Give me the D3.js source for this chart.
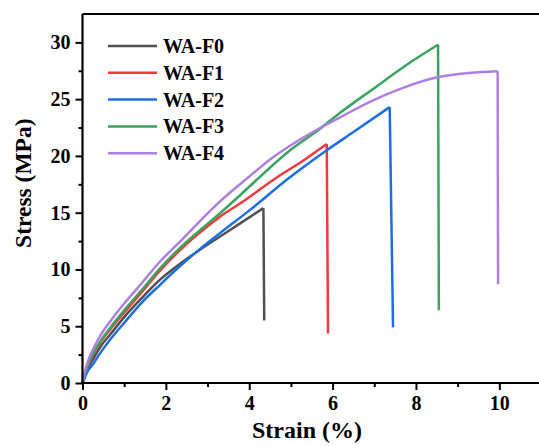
<!DOCTYPE html>
<html>
<head>
<meta charset="utf-8">
<script src="https://cdn.jsdelivr.net/npm/d3@7"></script>
<style>
  body { margin: 0; background: #fff; }
  text { font-family: "Liberation Serif", "Times New Roman", serif; font-weight: bold; fill: #000; }
</style>
</head>
<body>
<div id="chart"></div>
<script>
const width = 539;
const height = 446;

// Data: [strain %, stress MPa]; last point of each is the bottom of the break
const seriesNames = ["WA-F0", "WA-F1", "WA-F2", "WA-F3", "WA-F4"];
const colors = ["#505050", "#f2393c", "#1c6fe3", "#3aa360", "#b07ee2"];

const wa_f0 = [[0,0],[0.05,0.55],[0.15,1.45],[0.3,2.4],[0.45,3.3],[0.66,4.25],[1.0,5.8],[1.4,7.4],[1.86,9.1],[2.34,10.5],[2.8,11.7],[3.3,12.9],[3.8,14.1],[4.34,15.4],[4.36,5.5]];
const wa_f1 = [[0,0],[0.05,0.65],[0.15,1.7],[0.3,2.8],[0.45,3.7],[0.66,4.7],[1.0,6.2],[1.4,7.9],[1.86,9.9],[2.34,11.7],[2.8,13.2],[3.3,14.65],[3.86,16.0],[4.58,17.9],[5.38,19.8],[5.86,21.05],[5.89,4.35]];
const wa_f2 = [[0,0],[0.05,0.45],[0.15,1.2],[0.22,1.5],[0.4,2.5],[0.66,3.8],[1.0,5.3],[1.4,7.0],[1.86,8.65],[2.34,10.3],[2.8,11.75],[3.3,13.2],[4.02,15.25],[4.9,17.9],[5.86,20.5],[6.5,22.1],[7.37,24.3],[7.45,4.9]];
const wa_f3 = [[0,0],[0.05,0.7],[0.15,1.8],[0.3,2.9],[0.45,3.8],[0.66,4.85],[1.0,6.4],[1.4,8.1],[1.86,10.1],[2.34,11.9],[2.8,13.4],[3.3,14.95],[3.74,16.4],[4.18,17.9],[4.98,20.5],[5.7,22.4],[6.18,23.8],[6.97,25.9],[7.93,28.4],[8.53,29.8],[8.55,6.4]];
const wa_f4 = [[0,0],[0.05,0.9],[0.15,2.1],[0.3,3.3],[0.45,4.3],[0.66,5.4],[1.0,7.0],[1.4,8.7],[1.86,10.7],[2.34,12.45],[2.8,14.2],[3.3,16.0],[3.94,18.0],[4.58,19.9],[5.38,21.8],[6.18,23.4],[6.97,24.9],[7.69,26.0],[8.49,26.9],[9.29,27.3],[9.96,27.45],[9.97,8.7]];
const allSeries = [wa_f0, wa_f1, wa_f2, wa_f3, wa_f4];

const xTicks = [0, 2, 4, 6, 8, 10];
const xMinor = [1, 3, 5, 7, 9];
const yTicks = [0, 5, 10, 15, 20, 25, 30];
const yMinor = [2.5, 7.5, 12.5, 17.5, 22.5, 27.5];

const margin = { top: 14, left: 82.5, bottom: 63, right: -2 };

const x = d3.scaleLinear().domain([0, 11]).range([margin.left, width - margin.right]);
const y = d3.scaleLinear().domain([0, 32.5]).range([height - margin.bottom, margin.top]);

const svg = d3.select("#chart").append("svg").attr("width", width).attr("height", height);

// Curves: smooth rise, straight drop at the break
const rise = d3.line().x(d => x(d[0])).y(d => y(d[1])).curve(d3.curveMonotoneX);
const drop = d3.line().x(d => x(d[0])).y(d => y(d[1]));
const curves = svg.append("g").selectAll("g").data(allSeries).join("g")
  .attr("fill", "none")
  .attr("stroke", (d, i) => colors[i])
  .attr("stroke-width", 2.5)
  .attr("stroke-linejoin", "round");
curves.append("path").attr("d", d => rise(d.slice(0, -1)));
curves.append("path").attr("d", d => drop(d.slice(-2)));

// Axes
const xAxis = svg.append("g").attr("transform", `translate(0,${y(0)})`)
  .call(d3.axisBottom(x).tickValues(xTicks).tickSize(7).tickPadding(6).tickFormat(d3.format("d")));
svg.append("g").attr("transform", `translate(0,${y(0)})`)
  .call(d3.axisBottom(x).tickValues(xMinor).tickSize(4).tickFormat(""))
  .select(".domain").remove();

const yAxis = svg.append("g").attr("transform", `translate(${x(0)},0)`)
  .call(d3.axisLeft(y).tickValues(yTicks).tickSize(7).tickPadding(5).tickFormat(d3.format("d")));
svg.append("g").attr("transform", `translate(${x(0)},0)`)
  .call(d3.axisLeft(y).tickValues(yMinor).tickSize(4).tickFormat(""))
  .select(".domain").remove();

svg.selectAll(".domain").attr("stroke-width", 2.2);
svg.selectAll(".tick line").attr("stroke-width", 2);
svg.selectAll(".tick text").style("font-size", "20px").attr("fill", "#000");
xAxis.select(".domain").attr("d", `M${x(0)},0H${width + 5}`);
yAxis.select(".domain").attr("d", `M0,${y(0)}V${y(32.5)}`);

// Top frame line
svg.append("line")
  .attr("x1", x(0)).attr("x2", width + 5)
  .attr("y1", y(32.5)).attr("y2", y(32.5))
  .attr("stroke", "#000").attr("stroke-width", 2.2);

// Axis titles
svg.append("text")
  .attr("x", 307).attr("y", 438)
  .attr("text-anchor", "middle")
  .style("font-size", "24px")
  .text("Strain (%)");

svg.append("text")
  .attr("transform", `translate(31,${y(17.6)}) rotate(-90)`)
  .attr("text-anchor", "middle")
  .style("font-size", "23.5px")
  .text("Stress (MPa)");

// Legend
const legend = svg.append("g").selectAll("g").data(seriesNames).join("g")
  .attr("transform", (d, i) => `translate(108,${46 + i * 26.8})`);
legend.append("line")
  .attr("x1", 0).attr("x2", 49)
  .attr("stroke", (d, i) => colors[i])
  .attr("stroke-width", 2.5);
legend.append("text")
  .attr("x", 55).attr("y", 7)
  .style("font-size", "20px")
  .text(d => d);
</script>
</body>
</html>
